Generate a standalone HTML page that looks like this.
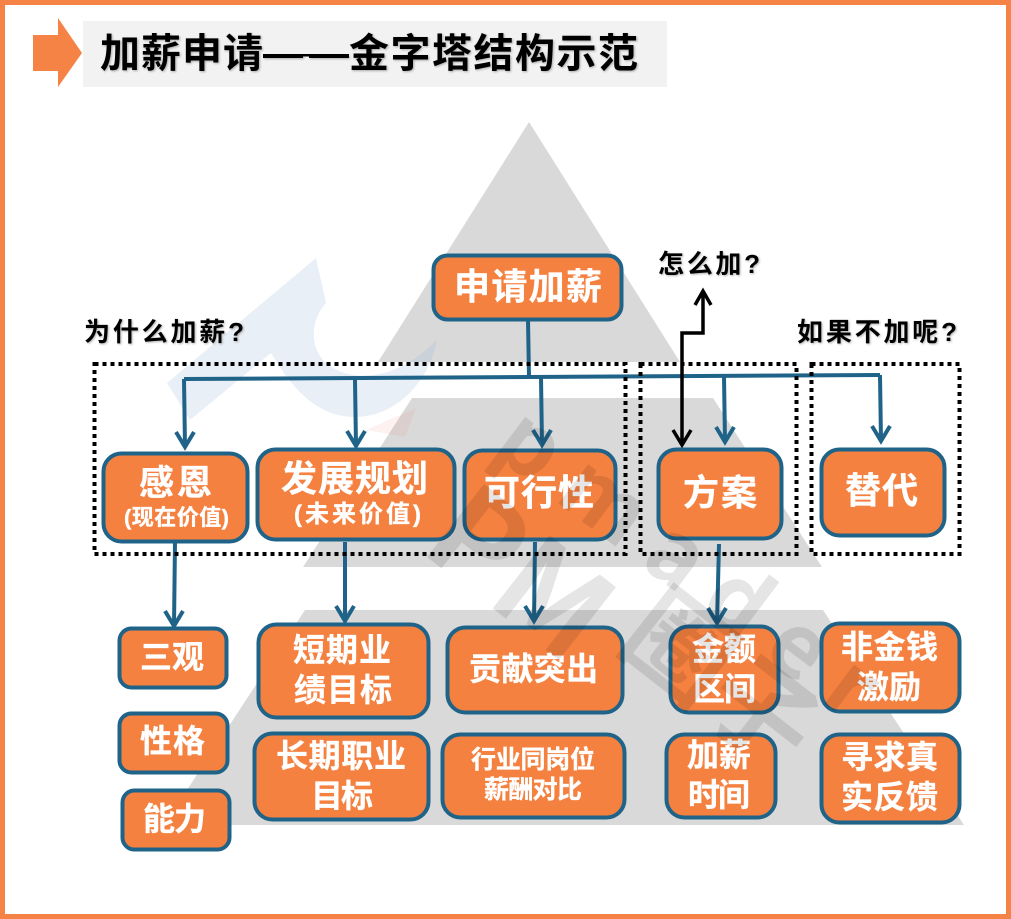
<!DOCTYPE html>
<html lang="zh"><head><meta charset="utf-8"><title>加薪申请——金字塔结构示范</title>
<style>
html,body{margin:0;padding:0;background:#fff}
svg{display:block}
text{font-family:"Liberation Sans","Noto Sans CJK SC",sans-serif}
.w{fill:#fff;stroke:#fff;stroke-width:.35;font-weight:700;font-family:"Noto Sans CJK SC",sans-serif}
.k{fill:#000;font-weight:700;font-family:"Noto Sans CJK SC",sans-serif;filter:drop-shadow(1px 1px 1px rgba(0,0,0,.3))}
.b rect{fill:#f58140;stroke:#1f6389;stroke-width:4}
.c path{fill:none;stroke:#1f6389;stroke-width:4}
.wm{fill:rgba(0,0,0,.1);font-family:"Noto Sans CJK SC",sans-serif;font-weight:700}
</style></head><body>
<svg xmlns="http://www.w3.org/2000/svg" width="1011" height="919" viewBox="0 0 1011 919">
<rect width="1011" height="919" fill="#fff"/>
<rect x="2.5" y="2.500" width="1006" height="914" fill="none" stroke="#f58345" stroke-width="5"/>
<polygon points="33,35 58,35 58,18 82,53 58,87 58,71 33,71" fill="#f58345"/>
<rect x="83" y="21" width="584" height="66" fill="#f2f2f2"/>
<rect x="263" y="54" width="86" height="2.500" fill="#000"/>
<g class="k" font-size="40">
<text x="100" y="67" textLength="163">加薪申请</text>
<text x="263" y="67" textLength="86" style="font-weight:400">——</text>
<text x="349" y="67" textLength="289">金字塔结构示范</text>
</g>
<!-- pyramid -->
<polygon points="529,122 680,362 378,362" fill="#d9d9d9"/>
<polygon points="412,398 713,398 822,567 303,567" fill="#d9d9d9"/>
<polygon points="305,610 823,610 964,825 164,825" fill="#d9d9d9"/>
<!-- pale logo watermark -->
<path d="M167,383 L316,258 L326,303 C312,318 308,345 325,362 C350,385 400,380 437,339 C432,375 400,417 355,417 C315,417 290,385 271,353 L190,420 Z" fill="#9db5d8" fill-opacity=".22"/>
<polygon points="416,408 405,437 366,430" fill="#e8705a" fill-opacity=".09"/>
<!-- connectors -->
<g class="c">
<path d="M528,320 L529,377"/>
<path d="M184,379 L529,377 L880,375"/>
<path d="M184,379 L185,447 M176,432 L185,447 L194,432"/>
<path d="M355,380 L356,446 M347,431 L356,446 L365,431"/>
<path d="M541,377 L542,445 M533,430 L542,445 L551,430"/>
<path d="M724,376 L725,442 M716,427 L725,442 L734,427"/>
<path d="M880,375 L881,441 M872,426 L881,441 L890,426"/>
<path d="M175,542 L174,626 M165,611 L174,626 L183,611"/>
<path d="M345,542 L345,621 M336,606 L345,621 L354,606"/>
<path d="M535,542 L534,621 M525,606 L534,621 L543,606"/>
<path d="M719,544 L717,623 M708,608 L717,623 L726,608"/>
</g>
<path d="M682,445 L682,333 L703,333 L703,291 M673,430 L682,445 L691,430 M695,305 L703,291 L711,305" fill="none" stroke="#000" stroke-width="3.5"/>
<!-- dotted groups -->
<g fill="none" stroke="#000" stroke-width="4" stroke-dasharray="4 4">
<rect x="94.500" y="364" width="531" height="190"/>
<rect x="640.500" y="364" width="156" height="190"/>
<rect x="811.500" y="364" width="148" height="190"/>
</g>
<!-- boxes -->
<g class="b">
<rect x="433.500" y="255.500" width="188" height="64" rx="14"/>
<rect x="103.500" y="453.500" width="144" height="88" rx="18"/>
<rect x="257.500" y="449.500" width="197" height="90" rx="18"/>
<rect x="464.500" y="450.500" width="151" height="89" rx="18"/>
<rect x="658.500" y="449.500" width="123" height="89" rx="18"/>
<rect x="821.500" y="449.500" width="123" height="86" rx="18"/>
<rect x="119.500" y="628.500" width="107" height="59" rx="12"/>
<rect x="119.500" y="713.500" width="108" height="59" rx="12"/>
<rect x="122.500" y="790.500" width="107" height="59" rx="12"/>
<rect x="258.500" y="624.500" width="170" height="93" rx="18"/>
<rect x="447.500" y="627.500" width="175" height="85" rx="18"/>
<rect x="254.500" y="733.500" width="174" height="86" rx="18"/>
<rect x="442.500" y="734.500" width="182" height="83" rx="18"/>
<rect x="670.500" y="626.500" width="108" height="86" rx="18"/>
<rect x="821.500" y="623.500" width="138" height="88" rx="18"/>
<rect x="666.500" y="734.500" width="109" height="83" rx="18"/>
<rect x="821.500" y="734.500" width="138" height="88" rx="18"/>
</g>
<!-- box text -->
<g class="w">
<text x="454" y="299" font-size="36" textLength="148">申请加薪</text>
<text x="139" y="495" font-size="35" textLength="73">感恩</text>
<text x="124" y="525" font-size="22" textLength="105">(现在价值)</text>
<text x="281" y="491" font-size="36" textLength="147">发展规划</text>
<text x="294" y="522" font-size="24" textLength="127">(未来价值)</text>
<text x="484" y="505" font-size="36" textLength="110">可行性</text>
<text x="683" y="505" font-size="36" textLength="74">方案</text>
<text x="845" y="503" font-size="36" textLength="73">替代</text>
<text x="140" y="668" font-size="32" textLength="64">三观</text>
<text x="140" y="752" font-size="32" textLength="65">性格</text>
<text x="143" y="830" font-size="32" textLength="63">能力</text>
<text x="293" y="661" font-size="32" textLength="98">短期业</text>
<text x="294" y="701" font-size="32" textLength="98">绩目标</text>
<text x="469" y="680" font-size="32" textLength="129">贡献突出</text>
<text x="276" y="767" font-size="32" textLength="130">长期职业</text>
<text x="311" y="807" font-size="32" textLength="62">目标</text>
<text x="471" y="768" font-size="25" textLength="124">行业同岗位</text>
<text x="484" y="798" font-size="25" textLength="98">薪酬对比</text>
<text x="692" y="660" font-size="32" textLength="64">金额</text>
<text x="693" y="700" font-size="32" textLength="63">区间</text>
<text x="841" y="658" font-size="32" textLength="97">非金钱</text>
<text x="857" y="698" font-size="32" textLength="64">激励</text>
<text x="687" y="766" font-size="32" textLength="64">加薪</text>
<text x="688" y="806" font-size="32" textLength="62">时间</text>
<text x="841" y="768" font-size="32" textLength="97">寻求真</text>
<text x="841" y="808" font-size="32" textLength="97">实反馈</text>
</g>
<!-- labels -->
<g class="k" font-size="26">
<text x="84" y="341" textLength="160">为什么加薪?</text>
<text x="658" y="273" textLength="102">怎么加?</text>
<text x="797" y="341" textLength="160">如果不加呢?</text>
</g>
<!-- grey diagonal watermark -->
<text class="wm" font-size="125" transform="translate(418,550) rotate(38)">PM</text>
<text class="wm" font-size="105" transform="translate(615,645) rotate(38)">圈子</text>
<text class="wm" font-size="88" transform="translate(490,452) rotate(37)" textLength="450">pmader</text>
</svg>
</body></html>
